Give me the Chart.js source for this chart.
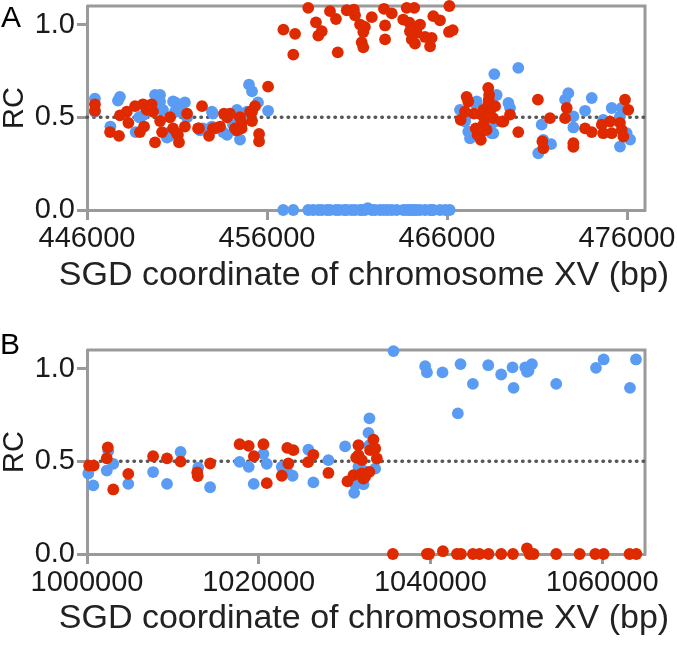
<!DOCTYPE html>
<html>
<head>
<meta charset="utf-8">
<script src="https://cdn.jsdelivr.net/npm/chart.js@4.4.1/dist/chart.umd.min.js"></script>
<style>
  html, body { margin: 0; padding: 0; background: #fff; }
  .panel { position: relative; width: 677px; height: 325px; }
</style>
</head>
<body>
<div class="panel"><canvas id="chartA" width="677" height="325"></canvas></div>
<div class="panel"><canvas id="chartB" width="677" height="325"></canvas></div>
<script>
// Panel A : chromosome XV, 446 000 - 477 000 bp
const xTicksA = [446000, 456000, 466000, 476000];
const aBluePos = [
    446440, 446440, 447830, 447720, 447300, 448700, 448900, 449780, 450060, 450060,
    450220, 450610, 450610, 450780, 450890, 451440, 450890, 451170, 451560, 452280,
    452440, 452940, 453000, 452940, 453560, 453780, 454110, 454220, 454330, 454500,
    454890, 455000, 455170, 455500, 456060, 449110, 450440, 450170,
    456900, 457460, 458290, 458560, 458850, 459040, 459330, 459500, 459830, 460000,
    460280, 460430, 460700, 460890, 461170, 461260, 461440, 461600, 461820, 462000,
    462280, 462500, 462700, 462930, 463200, 463570, 463760, 463940, 464040, 464180,
    464320, 464500, 464780, 465060, 465150, 465240, 465610, 465900, 466150,
    466720, 467000, 467000, 467280, 467180, 467650, 467560, 468630, 468760, 469410,
    469500, 468480, 468570, 468390, 468670, 469960, 471260, 471070, 471350, 471780,
    472740, 472560, 473020, 473020, 474040, 473670, 475150, 475700, 475610, 476170,
    475980, 474680, 475610
];
const aBlueRC = [
    .60, .53, .61, .59, .45, .42, .50, .62, .62, .585,
    .54, .40, .42, .585, .58, .58, .53, .53, .50, .43,
    .44, .53, .52, .45, .42, .405, .46, .43, .54, .38,
    .53, .676, .64, .58, .535, .51, .39, .54,
    0, 0, 0, 0, 0, 0, 0, 0, 0, 0,
    0, 0, 0, 0, 0, 0, 0, .01, 0, 0,
    0, 0, 0, 0, 0, 0, 0, 0, 0, 0,
    0, 0, 0, 0, 0, 0, 0, 0, 0,
    .54, .486, .477, .387, .423, .585, .577, .733, .62, .577,
    .55, .414, .414, .45, .477, .766, .46, .306, .378, .355,
    .63, .595, .505, .445, .604, .535, .55, .55, .342, .38,
    .414, .486, .505
];
const aRedPos = [
    446440, 446440, 447280, 447780, 447830, 448210, 448300, 448670, 448940, 449170,
    449320, 449590, 449670, 449780, 450060, 450170, 450610, 450780, 450980, 451110,
    451440, 451560, 452220, 452390, 452780, 453000, 453390, 453610, 453940, 453780,
    454220, 454590, 454500, 454610, 455060, 455330, 455170, 455560, 455560, 456060,
    449110, 451050, 452170, 453110, 454330, 455170,
    456910, 457560, 457460, 458290, 458720, 459040, 458850, 459500, 459830, 459930,
    460430, 460830, 460890, 461170, 461440, 461350, 461260, 461350, 461820, 462500,
    462930, 462560, 462560, 463760, 464180, 463570, 463910, 464130, 464500, 463940,
    464320, 464040, 464220, 464780, 465150, 465060, 465240, 465610, 466130, 466110, 466320,
    467090, 467180, 466760, 467000, 467500, 468290, 468340, 468320, 468290, 468670,
    468020, 467900, 468110, 468390, 468570, 467600, 467700, 467880, 468020, 468200,
    467930, 469040, 469130, 469500, 469960, 471050, 471720, 472650, 472560, 473670,
    474040, 471300, 471350, 473020, 473020, 474600, 474680, 475150, 475060, 475610,
    475710, 475800, 475890, 476070
];
const aRedRC = [
    .57, .535, .42, .40, .51, .53, .47, .56, .42, .45,
    .54, .57, .53, .365, .48, .42, .50, .44, .415, .365,
    .45, .52, .44, .56, .40, .44, .45, .52, .52, .50,
    .44, .44, .50, .47, .53, .56, .48, .41, .37, .665,
    .57, .405, .44, .44, .43, .53,
    .973, .95, .838, 1.09, 1.012, .964, .94, 1.072, 1.03, .85,
    1.077, 1.08, 1.05, 1.0, .987, .96, .904, .877, 1.04, 1.085,
    1.06, .995, .92, 1.09, 1.09, 1.027, 1.01, .98, 1.0, .964,
    .955, .92, .897, .933, .928, .883, 1.045, 1.023, 1.10, .96, .97,
    .61, .585, .486, .53, .52, .658, .62, .595, .568, .56,
    .54, .514, .495, .52, .495, .44, .405, .378, .46, .432,
    .423, .477, .477, .514, .42, .595, .495, .55, .495, .44,
    .42, .37, .333, .36, .34, .46, .414, .414, .477, .47,
    .432, .396, .595, .54
];

// Panel B : chromosome XV, 1 000 000 - 1 065 000 bp
const xTicksB = [1000000, 1020000, 1040000, 1060000];
const bBluePos = [
    1000150, 1000730, 1002300, 1002480, 1003060, 1004810, 1007700, 1009320, 1010900, 1012950,
    1014340, 1017770, 1018840, 1019420, 1020550, 1020940, 1022690, 1023280, 1023950, 1025790,
    1026370, 1028120, 1030070, 1032200, 1031620, 1031240, 1031120, 1032200, 1033570, 1032900,
    1032790, 1032900,
    1035700, 1039390, 1039600, 1041410, 1043510, 1044950, 1043200, 1046740, 1048250, 1049570,
    1049690, 1051050, 1051250, 1051430, 1051830, 1054660, 1059290, 1060180, 1063250, 1063950
];
const bBlueRC = [
    .434, .37, .45, .555, .486, .378, .442, .378, .55, .465,
    .36, .497, .47, .378, .54, .486, .47, .45, .422, .562,
    .386, .506, .58, .45, .47, .376, .33, .376, .46, .731,
    .653, .587,
    1.094, 1.013, .979, .979, 1.024, .917, .758, 1.018, .968, 1.006,
    .896, 1.006, .982, .988, 1.024, .917, 1.004, 1.049, .896, 1.049
];
const bRedPos = [
    1000250, 1000780, 1002300, 1002420, 1003060, 1004810, 1007700, 1009320, 1010900, 1012840,
    1012900, 1014340, 1017780, 1018840, 1019440, 1020550, 1020940, 1022690, 1023330, 1024040,
    1023460, 1025750, 1026370, 1028120, 1032200, 1030340, 1031040, 1031620, 1031620, 1031350,
    1032020, 1032020, 1032400, 1032900, 1032980, 1033370, 1033570, 1033760,
    1035630, 1039590, 1039860, 1041460, 1043090, 1043560, 1044950, 1045720, 1046770, 1048250,
    1049620, 1051250, 1051550, 1052020, 1054660, 1057380, 1059210, 1060180, 1063200, 1063990
];
const bRedRC = [
    .477, .477, .516, .575, .348, .432, .527, .516, .498, .44,
    .42, .488, .592, .583, .527, .592, .382, .422, .572, .56,
    .488, .495, .535, .437, .407, .392, .425, .587, .533, .52,
    .506, .434, .416, .443, .56, .617, .569, .515,
    0, 0, 0, .015, 0, 0, 0, 0, 0, 0,
    0, .03, 0, 0, 0, 0, 0, 0, 0, 0
];

const yTicks = [0, 0.5, 1.0];
const xTitle = 'SGD coordinate of chromosome XV (bp)';
const yTitle = 'RC';

const BLUE = '#5A9CF3';
const RED = '#DF2A00';
const AXIS = '#9a9a9a';
const TEXT = '#1a1a1a';
const FONT = '"Liberation Sans", Arial, Helvetica, sans-serif';

Chart.defaults.font.family = FONT;

const toPoints = (xs, ys) => xs.map((x, i) => ({ x: x, y: ys[i] }));

// Cadre haut / droite, lettre du panneau et titre de l'axe X
// (titre dessiné ici car Chart.js le comprime à la largeur de l'axe)
const framePlugin = {
    id: 'frame',
    beforeDatasetsDraw(chart) {
        const { ctx, chartArea: a } = chart;
        ctx.save();
        ctx.strokeStyle = AXIS;
        ctx.lineWidth = 3;
        ctx.beginPath();
        ctx.moveTo(a.left, a.top);
        ctx.lineTo(a.right, a.top);
        ctx.lineTo(a.right, a.bottom + 1.5);
        ctx.stroke();
        ctx.restore();
    },
    afterDraw(chart, args, opts) {
        const ctx = chart.ctx;
        ctx.save();
        ctx.textBaseline = 'alphabetic';
        ctx.fillStyle = '#000';
        ctx.font = '30px ' + FONT;
        ctx.textAlign = 'left';
        ctx.fillText(opts.letter, opts.x, opts.y);
        ctx.fillStyle = '#222';
        ctx.font = '34px ' + FONT;
        ctx.textAlign = 'center';
        ctx.fillText(opts.title, opts.titleX, opts.titleY);
        ctx.restore();
    }
};

const panels = [
    {
        id: 'chartA', letter: 'A', letterX: 1, letterY: 27,
        xMin: 446000, xMax: 477000, xTicks: xTicksA,
        blue: toPoints(aBluePos, aBlueRC), red: toPoints(aRedPos, aRedRC),
        top: 6, bottom: 210, titleY: 285
    },
    {
        id: 'chartB', letter: 'B', letterX: 0, letterY: 29,
        xMin: 1000000, xMax: 1065000, xTicks: xTicksB,
        blue: toPoints(bBluePos, bBlueRC), red: toPoints(bRedPos, bRedRC),
        top: 25, bottom: 229, titleY: 303
    }
];

panels.forEach(p => {
    const canvas = document.getElementById(p.id);
    const H = canvas.height;
    new Chart(canvas, {
        type: 'scatter',
        data: {
            datasets: [
                {
                    type: 'line',
                    data: [{ x: p.xMin, y: 0.5 }, { x: p.xMax, y: 0.5 }],
                    borderColor: '#585858',
                    borderWidth: 3.4,
                    borderDash: [0.6, 6.1],
                    borderCapStyle: 'round',
                    pointRadius: 0,
                    order: 3,
                    clip: false
                },
                {
                    data: p.blue,
                    backgroundColor: BLUE,
                    borderWidth: 0,
                    pointRadius: 5.9,
                    order: 2,
                    clip: false
                },
                {
                    data: p.red,
                    backgroundColor: RED,
                    borderWidth: 0,
                    pointRadius: 5.9,
                    order: 1,
                    clip: false
                }
            ]
        },
        options: {
            responsive: false,
            devicePixelRatio: 1,
            animation: false,
            events: [],
            layout: { padding: { top: p.top, right: 32, left: 0, bottom: 0 } },
            scales: {
                x: {
                    type: 'linear',
                    min: p.xMin,
                    max: p.xMax,
                    afterBuildTicks: s => { s.ticks = p.xTicks.map(v => ({ value: v })); },
                    afterFit: s => { s.height = H - p.bottom; s.paddingLeft = 0; s.paddingRight = 0; },
                    grid: { drawOnChartArea: false, drawTicks: true, tickLength: 10, tickWidth: 3, tickColor: AXIS },
                    border: { display: true, color: AXIS, width: 3 },
                    ticks: { callback: v => String(v), color: TEXT, font: { size: 29 }, padding: 2, maxRotation: 0, autoSkip: false },
                    title: { display: false }
                },
                y: {
                    min: 0,
                    max: 1.1,
                    afterBuildTicks: s => { s.ticks = yTicks.map(v => ({ value: v })); },
                    afterFit: s => { s.width = 87; s.paddingTop = 0; s.paddingBottom = 0; },
                    grid: { drawOnChartArea: false, drawTicks: true, tickLength: 10, tickWidth: 3, tickColor: AXIS },
                    border: { display: true, color: AXIS, width: 3 },
                    ticks: { callback: v => v.toFixed(1), color: TEXT, font: { size: 29 }, padding: 2 },
                    title: { display: true, text: yTitle, color: TEXT, font: { size: 29, lineHeight: 1 }, padding: 0 }
                }
            },
            plugins: {
                legend: { display: false },
                tooltip: { enabled: false },
                frame: { letter: p.letter, x: p.letterX, y: p.letterY, title: xTitle, titleX: 364, titleY: p.titleY }
            }
        },
        plugins: [framePlugin]
    });
});
</script>
</body>
</html>
